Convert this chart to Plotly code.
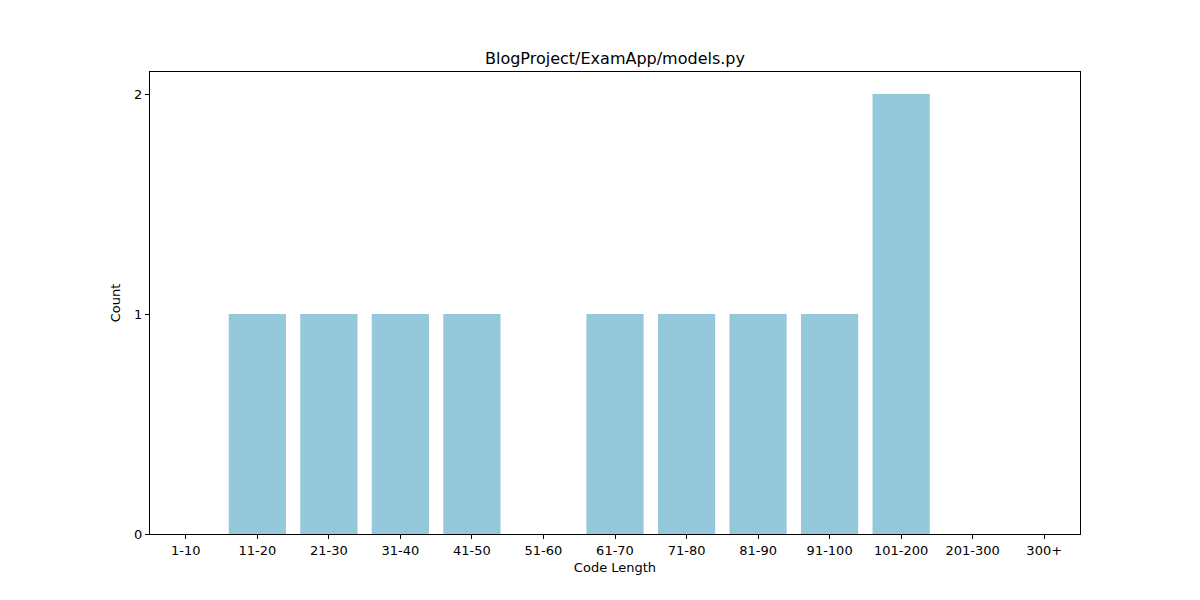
import plotly.graph_objects as go

categories = ["1-10", "11-20", "21-30", "31-40", "41-50", "51-60", "61-70",
              "71-80", "81-90", "91-100", "101-200", "201-300", "300+"]
counts = [0, 1, 1, 1, 1, 0, 1, 1, 1, 1, 2, 0, 0]
y_ticks = [0, 1, 2]

fig = go.Figure(go.Bar(x=list(range(len(categories))), y=counts, width=0.8,
                       marker=dict(color="#96C8DC", line=dict(width=0))))

font = dict(family="DejaVu Sans", size=13, color="black")
fig.update_layout(
    width=1200, height=600,
    margin=dict(l=142, r=128, t=64, b=74),
    plot_bgcolor="white", paper_bgcolor="white",
    font=font,
    showlegend=False,
    title=dict(text="BlogProject/ExamApp/models.py", x=(615 - 8) / 1200, xanchor="center",
               y=1 - 50/600, yanchor="middle", font=dict(family="DejaVu Sans", size=16, color="black")),
)
fig.update_xaxes(range=[-0.5, 12.5], tickmode="array", tickvals=list(range(len(categories))),
                 ticktext=categories, showgrid=False, zeroline=False,
                 showline=True, linecolor="black", linewidth=1, mirror=True,
                 ticks="outside", ticklen=4, tickcolor="black",
                 title=dict(text="Code Length", standoff=6, font=font))
fig.update_yaxes(range=[0, 2.1], tickmode="array", tickvals=y_ticks,
                 ticktext=[str(v) for v in y_ticks], showgrid=False, zeroline=False,
                 showline=True, linecolor="black", linewidth=1, mirror=True,
                 ticks="outside", ticklen=4, tickcolor="black",
                 title=dict(text="Count", standoff=10, font=font))

fig.write_html("out.html")
